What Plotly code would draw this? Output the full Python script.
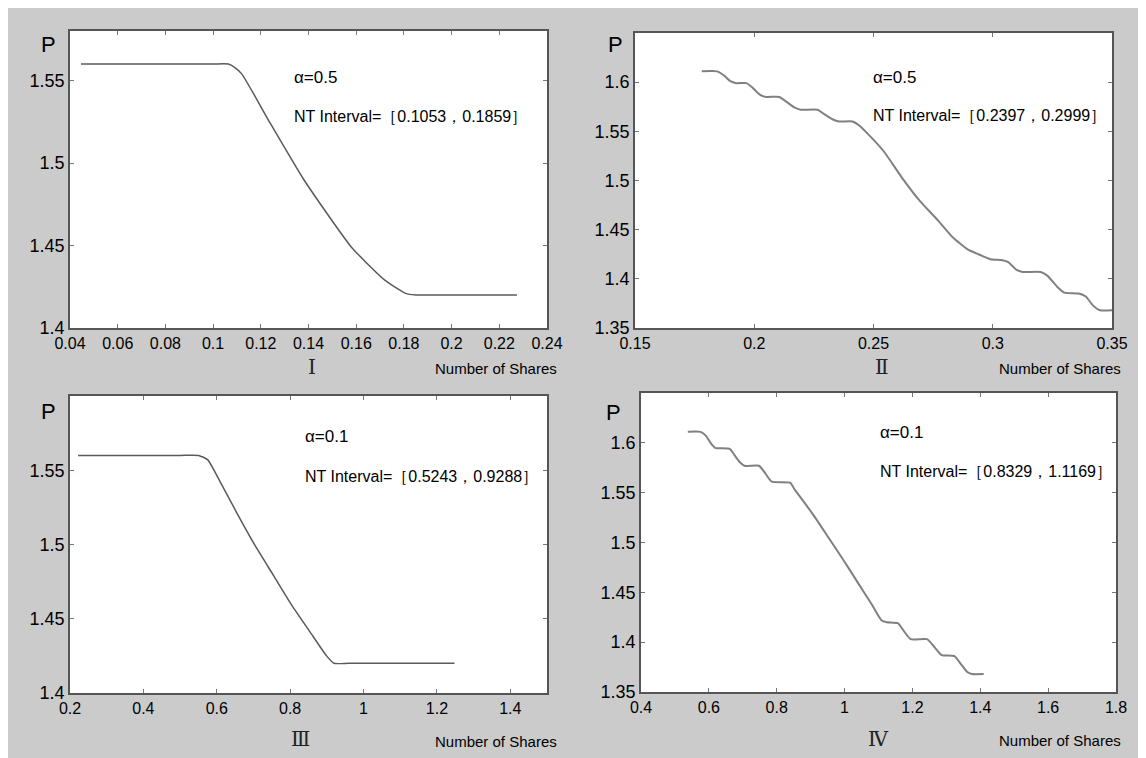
import plotly.graph_objects as go

# ---------------- data ----------------
x1 = [0.0446, 0.0700, 0.1000, 0.1064, 0.109, 0.112, 0.124, 0.138, 0.158, 0.172, 0.1807,
      0.185, 0.1950, 0.2200, 0.2274]
p1 = [1.560, 1.560, 1.560, 1.560, 1.558, 1.554, 1.524, 1.490, 1.449, 1.429, 1.421,
      1.420, 1.420, 1.420, 1.420]

x2 = [0.178, 0.1845, 0.1872, 0.1900, 0.1925, 0.1967, 0.1990, 0.2025, 0.2050, 0.2105,
      0.2130, 0.2170, 0.2195, 0.2266, 0.2290, 0.2330, 0.2355, 0.2412, 0.2440, 0.2466,
      0.2542, 0.2619, 0.2695, 0.2772, 0.2833, 0.2895, 0.2940, 0.2990, 0.3040, 0.3065,
      0.3100, 0.3125, 0.3201, 0.3230, 0.3270, 0.3300, 0.3360, 0.3390, 0.3420, 0.3450, 0.3500]
p2 = [1.611, 1.611, 1.607, 1.601, 1.599, 1.599, 1.595, 1.587, 1.585, 1.585,
      1.581, 1.574, 1.572, 1.572, 1.568, 1.562, 1.560, 1.560, 1.556, 1.550,
      1.530, 1.503, 1.479, 1.459, 1.442, 1.430, 1.425, 1.420, 1.419, 1.417,
      1.409, 1.407, 1.407, 1.403, 1.392, 1.386, 1.385, 1.382, 1.373, 1.368, 1.368]

x3 = [0.222, 0.350, 0.500, 0.5507, 0.5756, 0.6054, 0.6553, 0.7051, 0.755, 0.8047, 0.8545,
      0.8993, 0.9192, 0.960, 1.100, 1.200, 1.2479]
p3 = [1.560, 1.560, 1.560, 1.560, 1.557, 1.544, 1.521, 1.499, 1.479, 1.459, 1.441,
      1.425, 1.420, 1.420, 1.420, 1.420, 1.420]

x4 = [0.538, 0.5755, 0.5917, 0.605, 0.6186, 0.6617, 0.675, 0.690, 0.7048, 0.7478,
      0.765, 0.7855, 0.8394, 0.8530, 0.8663, 0.9094, 0.9525, 0.9955, 1.0386, 1.0817,
      1.1086, 1.1248, 1.157, 1.175, 1.1948, 1.2432, 1.265, 1.2863, 1.324, 1.343,
      1.3617, 1.375, 1.41]
p4 = [1.611, 1.611, 1.607, 1.600, 1.595, 1.594, 1.588, 1.581, 1.577, 1.577,
      1.570, 1.561, 1.560, 1.553, 1.547, 1.527, 1.505, 1.483, 1.460, 1.437,
      1.422, 1.420, 1.419, 1.411, 1.403, 1.403, 1.395, 1.387, 1.386, 1.378,
      1.370, 1.368, 1.368]

xt1 = [0.04, 0.06, 0.08, 0.10, 0.12, 0.14, 0.16, 0.18, 0.20, 0.22, 0.24]
xl1 = ["0.04", "0.06", "0.08", "0.1", "0.12", "0.14", "0.16", "0.18", "0.2", "0.22", "0.24"]
xt2 = [0.15, 0.20, 0.25, 0.30, 0.35]
xl2 = ["0.15", "0.2", "0.25", "0.3", "0.35"]
xt3 = [0.2, 0.4, 0.6, 0.8, 1.0, 1.2, 1.4]
xl3 = ["0.2", "0.4", "0.6", "0.8", "1", "1.2", "1.4"]
xt4 = [0.4, 0.6, 0.8, 1.0, 1.2, 1.4, 1.6, 1.8]
xl4 = ["0.4", "0.6", "0.8", "1", "1.2", "1.4", "1.6", "1.8"]
yt_a = [1.40, 1.45, 1.50, 1.55]
yl_a = ["1.4", "1.45", "1.5", "1.55"]
yt_b = [1.35, 1.40, 1.45, 1.50, 1.55, 1.60]
yl_b = ["1.35", "1.4", "1.45", "1.5", "1.55", "1.6"]

alphas = ["α=0.5", "α=0.5", "α=0.1", "α=0.1"]
intervals = ["NT Interval=［0.1053，0.1859］", "NT Interval=［0.2397，0.2999］",
             "NT Interval=［0.5243，0.9288］", "NT Interval=［0.8329，1.1169］"]
numerals = ["Ⅰ", "Ⅱ", "Ⅲ", "Ⅳ"]
xlabel = "Number of Shares"
ylabel = "P"

# ---------------- layout ----------------
W, H = 1146, 758
OFF = 8  # page body margin: figure is drawn 8px right and down in the window


def px(v):
    return (v - OFF) / W


def py(v):
    return 1 - (v - OFF) / H


panels = [
    # (x, p, xrange, yrange, xticks, xlabels, yticks, ylabels, left, right, top, bottom, lw, color)
    (x1, p1, [0.04, 0.24], [1.40, 1.58], xt1, xl1, yt_a, yl_a, 70, 547, 31, 328, 1.5, "#5a5a5a"),
    (x2, p2, [0.15, 0.35], [1.35, 1.65], xt2, xl2, yt_b, yl_b, 635, 1112, 33, 328, 2.0, "#808080"),
    (x3, p3, [0.20, 1.50], [1.40, 1.60], xt3, xl3, yt_a, yl_a, 70, 547, 396, 693, 1.5, "#5a5a5a"),
    (x4, p4, [0.40, 1.80], [1.35, 1.65], xt4, xl4, yt_b, yl_b, 641, 1116, 393, 692, 2.0, "#808080"),
]

fig = go.Figure()
layout = dict(
    width=W, height=H,
    margin=dict(l=0, r=0, t=0, b=0, pad=0),
    paper_bgcolor="#cbcbcb",
    plot_bgcolor="white",
    showlegend=False,
    font=dict(family="Liberation Sans, Arial, sans-serif", size=16, color="#000000"),
)
annotations = []

for i, (xs, ps, xr, yr, xtv, xtl, ytv, ytl, L, R, T, B, lw, col) in enumerate(panels):
    n = "" if i == 0 else str(i + 1)
    fig.add_trace(go.Scatter(x=xs, y=ps, mode="lines", xaxis="x" + n, yaxis="y" + n,
                             line=dict(color=col, width=lw, shape="spline", smoothing=0.5),
                             hoverinfo="skip"))
    layout["xaxis" + n] = dict(domain=[px(L), px(R)], anchor="y" + n, range=xr,
                               tickvals=xtv, ticktext=xtl, ticks="inside", ticklen=4,
                               tickcolor="#777777", showline=True, linecolor="#555555",
                               linewidth=1.5, mirror="ticks", showgrid=False, zeroline=False,
                               automargin=False,
                               tickfont=dict(size=16, color="#000000"))
    layout["yaxis" + n] = dict(domain=[py(B), py(T)], anchor="x" + n, range=yr,
                               tickvals=ytv, ticktext=ytl, ticks="inside", ticklen=4,
                               tickcolor="#777777", showline=True, linecolor="#555555",
                               linewidth=1.5, mirror="ticks", showgrid=False, zeroline=False,
                               automargin=False,
                               tickfont=dict(size=18, color="#000000"))

# text positions in pixels (window coordinates)
text_pos = [
    (292, 78, 117, 48, 44, 312, 367, 559, 368),
    (871, 77, 115, 615, 45, 882, 367, 1123, 368),
    (303, 436, 476, 48, 411, 300, 739, 559, 741),
    (878, 432, 471, 613, 412, 878, 739, 1123, 740),
]
for i, (ax, ay, nty, Px, Py, nx, ny, xr_, xly) in enumerate(text_pos):
    annotations.append(dict(xref="paper", yref="paper", x=px(ax), y=py(ay), text=alphas[i],
                            showarrow=False, xanchor="left", yanchor="middle",
                            font=dict(size=17, color="#000000")))
    annotations.append(dict(xref="paper", yref="paper", x=px(ax), y=py(nty), text=intervals[i],
                            showarrow=False, xanchor="left", yanchor="middle",
                            font=dict(size=16, color="#000000")))
    annotations.append(dict(xref="paper", yref="paper", x=px(Px), y=py(Py), text=ylabel,
                            showarrow=False, xanchor="center", yanchor="middle",
                            font=dict(size=22, color="#000000")))
    annotations.append(dict(xref="paper", yref="paper", x=px(nx), y=py(ny), text=numerals[i],
                            showarrow=False, xanchor="center", yanchor="middle",
                            font=dict(size=20, color="#222222",
                                      family="DejaVu Serif, Liberation Serif, serif")))
    annotations.append(dict(xref="paper", yref="paper", x=px(xr_), y=py(xly), text=xlabel,
                            showarrow=False, xanchor="right", yanchor="middle",
                            font=dict(size=15, color="#000000")))

layout["annotations"] = annotations
fig.update_layout(**layout)
fig.write_html("out.html")
